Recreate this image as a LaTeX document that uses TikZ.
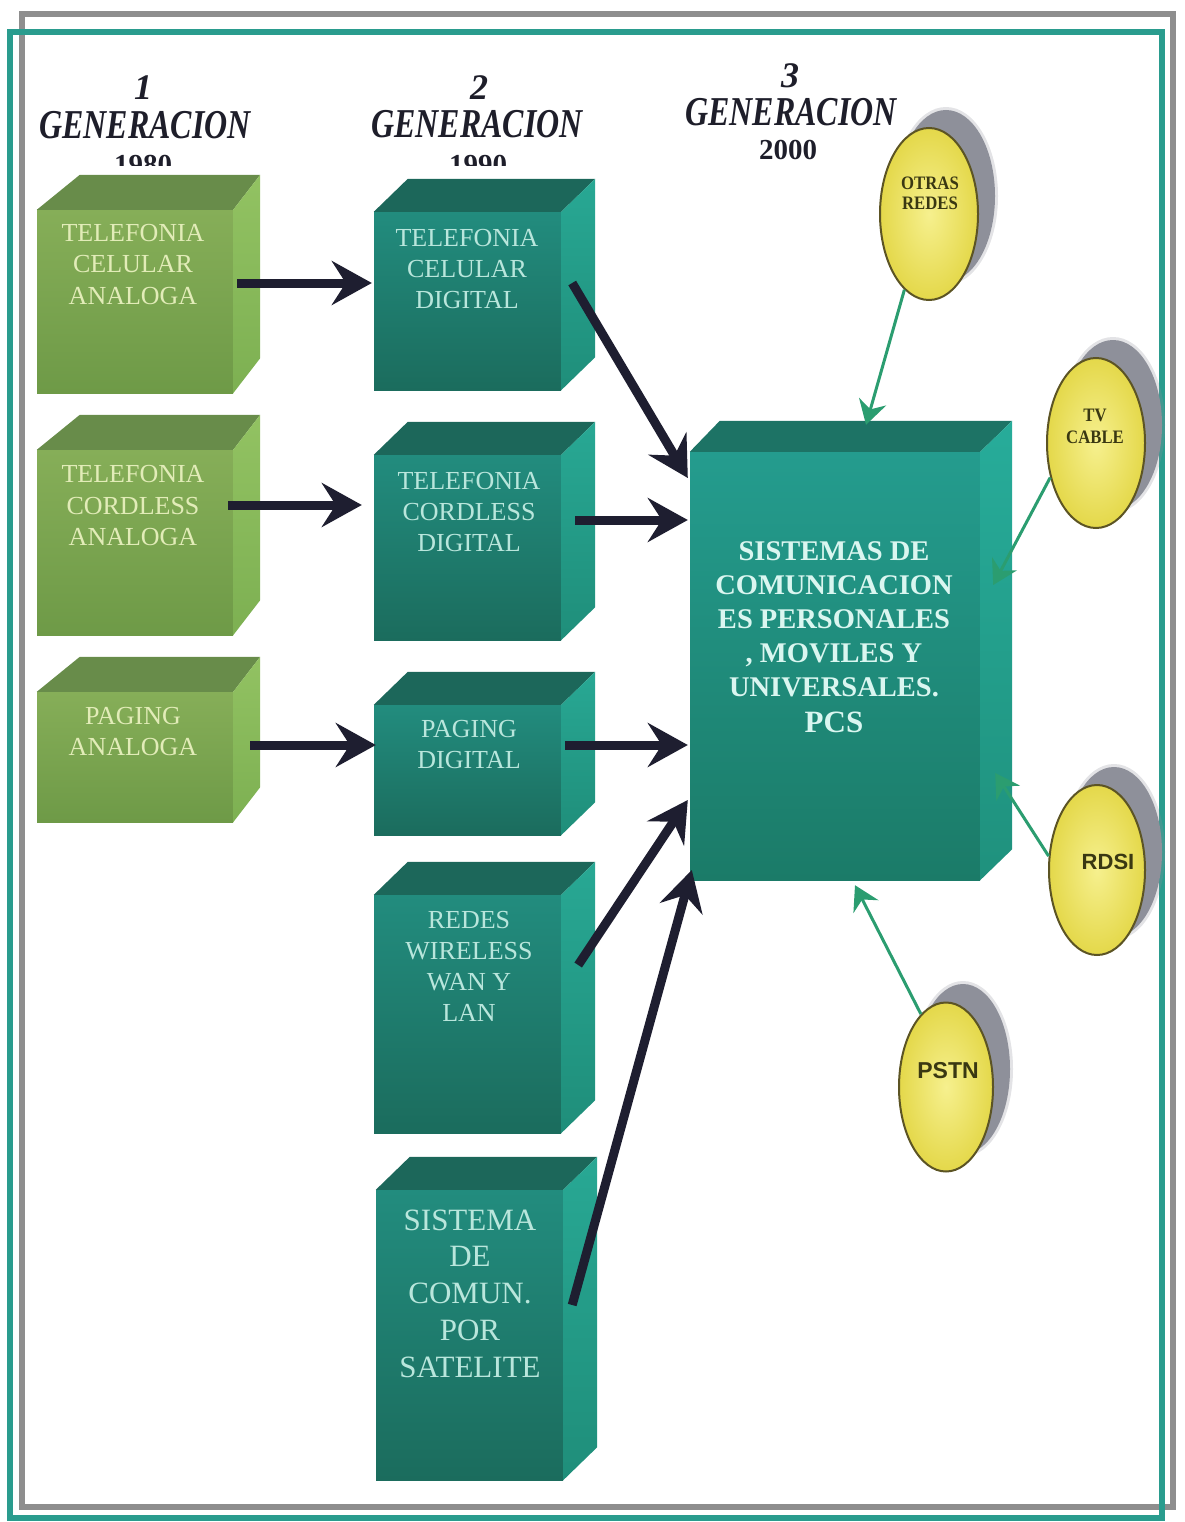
\documentclass[tikz,border=0pt]{standalone}
\usepackage{fontspec}
\setmainfont{Liberation Serif}
\newfontfamily\hdrfont[FakeStretch=0.78]{Liberation Serif}
\newfontfamily\ovalserif[FakeStretch=0.88]{Liberation Serif}
\newfontfamily\ovalsans{Liberation Sans}
\usetikzlibrary{arrows.meta,calc,shapes.geometric}

\definecolor{framegray}{HTML}{8E8E8E}
\definecolor{frameteal}{HTML}{2A9C8E}
\definecolor{gfT}{HTML}{86AE58}
\definecolor{gfB}{HTML}{6E9A47}
\definecolor{gtopc}{HTML}{688C4A}
\definecolor{gsT}{HTML}{92C262}
\definecolor{gsB}{HTML}{7DB052}
\definecolor{tfT}{HTML}{228C7E}
\definecolor{tfB}{HTML}{1B6C5D}
\definecolor{ttopc}{HTML}{1C675A}
\definecolor{tsT}{HTML}{28A894}
\definecolor{tsB}{HTML}{1F8E7A}
\definecolor{pfT}{HTML}{249C8E}
\definecolor{pfB}{HTML}{1B7B68}
\definecolor{ptopc}{HTML}{1D7365}
\definecolor{psT}{HTML}{27AC9A}
\definecolor{psB}{HTML}{1F917D}
\definecolor{gtext}{HTML}{E2ECB8}
\definecolor{ttext}{HTML}{B9E6DC}
\definecolor{ptext}{HTML}{DAF6F0}
\definecolor{arrowc}{HTML}{1E1E30}
\definecolor{linkc}{HTML}{2B9D70}
\definecolor{ovalin}{HTML}{F6F08E}
\definecolor{ovalout}{HTML}{E4D84A}
\definecolor{ovaledge}{HTML}{5C5424}
\definecolor{shadowc}{HTML}{8E909A}
\definecolor{ovaltext}{HTML}{3A3812}
\definecolor{hdrc}{HTML}{1E1E2A}

% top and right faces of a box whose front face is node #1
% #2 left depth, #3 right depth, #4 rise, #5 palette prefix
\newcommand{\cubefaces}[5]{%
  \path[#5top] (#1.north west) -- ++(#2,-#4) -- ([shift={(#3,-#4)}]#1.north east) -- (#1.north east) -- cycle;
  \path[#5side] (#1.north east) -- ([shift={(#3,-#4)}]#1.north east) -- ([shift={(#3,-#4)}]#1.south east) -- (#1.south east) -- cycle;}

\begin{document}
\begin{tikzpicture}[x=1pt,y=-1pt,
  gfront/.style={inner sep=0, top color=gfT, bottom color=gfB},
  gtop/.style={fill=gtopc},
  gside/.style={top color=gsT, bottom color=gsB},
  tfront/.style={inner sep=0, top color=tfT, bottom color=tfB},
  ttop/.style={fill=ttopc},
  tside/.style={top color=tsT, bottom color=tsB},
  pfront/.style={inner sep=0, top color=pfT, bottom color=pfB},
  ptop/.style={fill=ptopc},
  pside/.style={top color=psT, bottom color=psB},
  glabel/.style={align=center, inner sep=0, text=gtext, font=\fontsize{26}{31.5}\selectfont},
  tlabel/.style={align=center, inner sep=0, text=ttext, font=\fontsize{26}{31}\selectfont},
  hnum/.style={anchor=base, inner sep=0, text=hdrc, font=\fontsize{36}{38}\selectfont\bfseries\itshape},
  hgen/.style={anchor=base, inner sep=0, text=hdrc, font=\hdrfont\fontsize{41}{44}\selectfont\bfseries\itshape},
  hyear/.style={anchor=base, inner sep=0, text=hdrc, font=\fontsize{29}{32}\selectfont\bfseries},
  oval/.style={ellipse, draw=ovaledge, line width=2pt, inner sep=0, inner color=ovalin, outer color=ovalout},
  ovallabel/.style={align=center, inner sep=0, text=ovaltext},
  bigarrow/.style={line width=9pt, draw=arrowc, -{Stealth[length=40pt,width=44pt,inset=14pt]}},
  linkarrow/.style={line width=3pt, draw=linkc, -{Stealth[length=24pt,width=28pt,inset=8pt]}}]
\useasboundingbox (0,0) rectangle (1184,1522);

% double frame
\draw[line width=6pt, framegray] (22,14) rectangle (1173,1507);
\draw[line width=6pt, frameteal] (10,32) rectangle (1162,1518);

% column headings
\node[hnum] (h1n) at (143,100) {1};
\node[hgen] (h1g) at (145,139) {GENERACION};
\node[hnum] (h2n) at (479,100) {2};
\node[hgen] (h2g) at (477,138) {GENERACION};
\node[hnum] (h3n) at (790,88) {3};
\node[hgen] (h3g) at (791,126) {GENERACION};
\node[hyear] (h3y) at (788,160) {2000};
\begin{scope}
  \clip (0,0) rectangle (1184,166);
  \node[hyear] (h1y) at (143,175) {1980};
  \node[hyear] (h2y) at (478,175) {1990};
\end{scope}

% first generation
\node[gfront, minimum width=196pt, minimum height=183pt] (b1) at (135,301.5) {};
\cubefaces{b1}{43}{27}{35}{g}
\node[gfront, minimum width=196pt, minimum height=185pt] (b2) at (135,542.5) {};
\cubefaces{b2}{43}{27}{35}{g}
\node[gfront, minimum width=196pt, minimum height=130pt] (b3) at (135,757) {};
\cubefaces{b3}{43}{27}{35}{g}
\node[glabel] (b1t) at (133,264.5) {TELEFONIA\\CELULAR\\ANALOGA};
\node[glabel] (b2t) at (133,506) {TELEFONIA\\CORDLESS\\ANALOGA};
\node[glabel] (b3t) at (133,731.5) {PAGING\\ANALOGA};

% second generation
\node[tfront, minimum width=187pt, minimum height=178pt] (c1) at (467.5,301) {};
\cubefaces{c1}{34}{34}{33}{t}
\node[tfront, minimum width=187pt, minimum height=185pt] (c2) at (467.5,547.5) {};
\cubefaces{c2}{34}{34}{33}{t}
\node[tfront, minimum width=187pt, minimum height=130pt] (c3) at (467.5,770) {};
\cubefaces{c3}{34}{34}{33}{t}
\node[tfront, minimum width=187pt, minimum height=238pt] (c4) at (467.5,1014) {};
\cubefaces{c4}{34}{34}{33}{t}
\node[tfront, minimum width=187pt, minimum height=290pt] (c5) at (469.5,1335) {};
\cubefaces{c5}{34}{34}{33}{t}
\node[tlabel] (c1t) at (467,269) {TELEFONIA\\CELULAR\\DIGITAL};
\node[tlabel] (c2t) at (469,512) {TELEFONIA\\CORDLESS\\DIGITAL};
\node[tlabel] (c3t) at (469,744.5) {PAGING\\DIGITAL};
\node[tlabel] (c4t) at (469,966) {REDES\\WIRELESS\\WAN Y\\LAN};
\node[tlabel, font=\fontsize{31}{36.8}\selectfont] (c5t) at (470,1293.5) {SISTEMA\\DE\\COMUN.\\POR\\SATELITE};

% third generation
\node[pfront, minimum width=290pt, minimum height=428pt] (pcs) at (835,666) {};
\cubefaces{pcs}{30}{32}{31}{p}
\node[align=center, inner sep=0, text=ptext, font=\fontsize{28.5}{34}\selectfont\bfseries] (pcst) at (834,637)
  {SISTEMAS DE\\COMUNICACION\\ES PERSONALES\\, MOVILES Y\\UNIVERSALES.\\[2pt]{\fontsize{31}{34}\selectfont PCS}};

% networks around the PCS block
\coordinate (otrasc) at (929,214);
\coordinate (tvcc) at (1096,443);
\coordinate (rdsic) at (1097,870);
\coordinate (pstnc) at (946,1087);
\foreach \c/\rx/\ry in {otrasc/49/86, tvcc/49/85, rdsic/48/85, pstnc/47/85}{
  \fill[shadowc, opacity=0.25] ([shift={(17,-18)}]\c) ellipse [x radius=\rx pt+3pt, y radius=\ry pt+3pt];
  \fill[shadowc] ([shift={(17,-18)}]\c) ellipse [x radius=\rx pt, y radius=\ry pt];
}
\node[oval, minimum width=98pt, minimum height=172pt] (otras) at (otrasc) {};
\node[oval, minimum width=98pt, minimum height=170pt] (tvc) at (tvcc) {};
\node[oval, minimum width=96pt, minimum height=170pt] (rdsi) at (rdsic) {};
\node[oval, minimum width=94pt, minimum height=169pt] (pstn) at (pstnc) {};
\node[ovallabel, font=\ovalserif\fontsize{19}{20}\selectfont\bfseries] (otrast) at (930,193) {OTRAS\\REDES};
\node[ovallabel, font=\ovalserif\fontsize{19}{22}\selectfont\bfseries] (tvct) at (1095,426) {TV\\CABLE};
\node[ovallabel, font=\ovalsans\fontsize{22}{24}\selectfont\bfseries] (rdsit) at (1108,862) {RDSI};
\node[ovallabel, font=\ovalsans\fontsize{23}{24}\selectfont\bfseries] (pstnt) at (948,1071) {PSTN};

% evolution arrows
\draw[bigarrow] ($(b1.east)+(4,-18.5)$) -- ($(c1.west)+(-2,-18)$);
\draw[bigarrow] ($(b2.east)+(-5,-37.5)$) -- ($(c2.west)+(-12,-42.5)$);
\draw[bigarrow] ($(b3.east)+(17,-12)$) -- ($(c3.west)+(2,-25)$);
\draw[bigarrow] ($(c1.east)+(11,-18)$) -- ($(pcs.west)+(-2,-188)$);
\draw[bigarrow] ($(c2.east)+(14,-27.5)$) -- ($(pcs.west)+(-2,-146)$);
\draw[bigarrow] ($(c3.east)+(4,-25)$) -- ($(pcs.west)+(-2,79)$);
\draw[bigarrow] ($(c4.east)+(17,-49)$) -- ($(pcs.west)+(-2,134)$);
\draw[bigarrow] ($(c5.east)+(9,-30)$) -- ($(pcs.west)+(2,204)$);

% network links
\draw[linkarrow] (otras.252) -- ($(pcs.north)+(31,-27)$);
\draw[linkarrow] (tvc.217) -- ($(pcs.east)+(13,-81)$);
\draw[linkarrow] (rdsi.164) -- ($(pcs.east)+(15,107)$);
\draw[linkarrow] (pstn.109) -- ($(pcs.south)+(20,5)$);
\end{tikzpicture}
\end{document}
